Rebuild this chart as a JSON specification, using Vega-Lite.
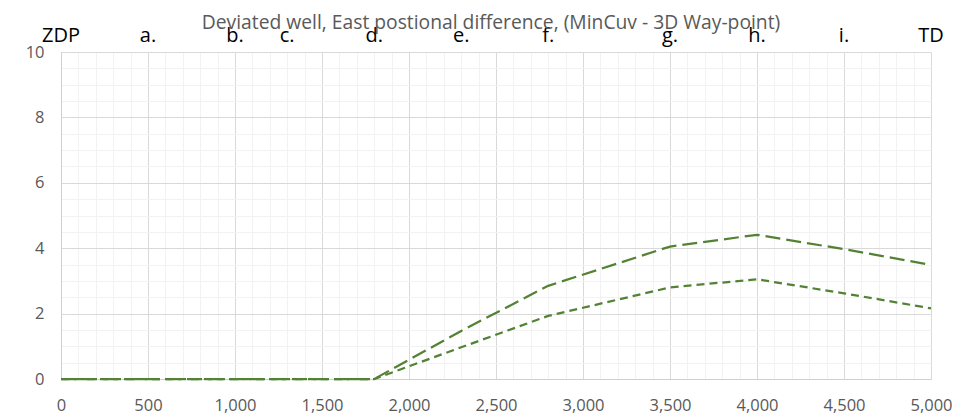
{
  "$schema": "https://vega.github.io/schema/vega-lite/v6.json",
  "width": 870,
  "height": 327,
  "autosize": "none",
  "padding": {"left": 61, "top": 52, "right": 36, "bottom": 38},
  "background": "white",
  "title": {
    "text": "Deviated well, East postional difference, (MinCuv - 3D Way-point)",
    "font": "Open Sans",
    "fontSize": 19.3,
    "fontWeight": "normal",
    "color": "#595959",
    "anchor": "middle",
    "offset": -7,
    "dx": -5
  },
  "config": {
    "view": {"stroke": null},
    "font": "Open Sans",
    "axis": {
      "title": null,
      "labelOverlap": false,
      "labelBound": false,
      "labelFlush": false,
      "labelFont": "Open Sans",
      "labelFontSize": 16.5,
      "labelColor": "#595959",
      "ticks": false,
      "domain": true,
      "domainColor": "#d0d0d0",
      "domainWidth": 1,
      "grid": true,
      "gridWidth": 1
    }
  },
  "datasets": {
    "sections": [
      {"depth": 0, "name": "ZDP"},
      {"depth": 500, "name": "a."},
      {"depth": 1000, "name": "b."},
      {"depth": 1300, "name": "c."},
      {"depth": 1800, "name": "d."},
      {"depth": 2300, "name": "e."},
      {"depth": 2800, "name": "f."},
      {"depth": 3500, "name": "g."},
      {"depth": 4000, "name": "h."},
      {"depth": 4500, "name": "i."},
      {"depth": 5000, "name": "TD"}
    ],
    "positions": [
      {"depth": 0, "series": "A", "diff": 0},
      {"depth": 500, "series": "A", "diff": 0},
      {"depth": 1000, "series": "A", "diff": 0},
      {"depth": 1300, "series": "A", "diff": 0},
      {"depth": 1800, "series": "A", "diff": 0},
      {"depth": 2300, "series": "A", "diff": 1.47},
      {"depth": 2800, "series": "A", "diff": 2.85},
      {"depth": 3500, "series": "A", "diff": 4.05},
      {"depth": 4000, "series": "A", "diff": 4.41},
      {"depth": 4500, "series": "A", "diff": 3.97},
      {"depth": 5000, "series": "A", "diff": 3.49},
      {"depth": 0, "series": "B", "diff": 0},
      {"depth": 500, "series": "B", "diff": 0},
      {"depth": 1000, "series": "B", "diff": 0},
      {"depth": 1300, "series": "B", "diff": 0},
      {"depth": 1800, "series": "B", "diff": 0},
      {"depth": 2300, "series": "B", "diff": 0.97},
      {"depth": 2800, "series": "B", "diff": 1.93},
      {"depth": 3500, "series": "B", "diff": 2.8},
      {"depth": 4000, "series": "B", "diff": 3.05},
      {"depth": 4500, "series": "B", "diff": 2.62},
      {"depth": 5000, "series": "B", "diff": 2.16}
    ]
  },
  "encoding": {
    "x": {
      "field": "depth",
      "type": "quantitative",
      "scale": {"domain": [0, 5000], "nice": false, "zero": false},
      "axis": {
        "values": [0,100,200,300,400,500,600,700,800,900,1000,1100,1200,1300,1400,1500,1600,1700,1800,1900,2000,2100,2200,2300,2400,2500,2600,2700,2800,2900,3000,3100,3200,3300,3400,3500,3600,3700,3800,3900,4000,4100,4200,4300,4400,4500,4600,4700,4800,4900,5000],
        "labelExpr": "datum.value % 500 === 0 ? format(datum.value, ',') : ''",
        "labelPadding": 18,
        "gridColor": {"condition": {"test": "datum.value % 500 === 0", "value": "#d9d9d9"}, "value": "#f2f2f2"}
      }
    }
  },
  "layer": [
    {
      "data": {"name": "positions"},
      "mark": {"type": "line", "color": "#548235", "strokeWidth": 2.25, "strokeCap": "butt"},
      "encoding": {
        "y": {
          "field": "diff",
          "type": "quantitative",
          "scale": {"domain": [0, 10], "nice": false},
          "axis": {
            "values": [0,0.5,1,1.5,2,2.5,3,3.5,4,4.5,5,5.5,6,6.5,7,7.5,8,8.5,9,9.5,10],
            "labelExpr": "datum.value % 2 === 0 ? format(datum.value, 'd') : ''",
            "labelPadding": 17,
            "gridColor": {"condition": {"test": "datum.value % 2 === 0", "value": "#d9d9d9"}, "value": "#f2f2f2"}
          }
        },
        "strokeDash": {
          "field": "series",
          "type": "nominal",
          "scale": {"domain": ["A", "B"], "range": [[15, 6], [8, 5]]},
          "legend": null
        }
      }
    },
    {
      "data": {"name": "sections"},
      "mark": {"type": "text", "font": "Open Sans", "fontSize": 20, "color": "#000000", "baseline": "alphabetic", "align": "center", "dy": -10},
      "encoding": {
        "y": {
          "datum": 10,
          "type": "quantitative",
          "axis": {
            "values": [0,0.5,1,1.5,2,2.5,3,3.5,4,4.5,5,5.5,6,6.5,7,7.5,8,8.5,9,9.5,10],
            "labelExpr": "datum.value % 2 === 0 ? format(datum.value, 'd') : ''",
            "labelPadding": 17,
            "gridColor": {"condition": {"test": "datum.value % 2 === 0", "value": "#d9d9d9"}, "value": "#f2f2f2"}
          }
        },
        "text": {"field": "name", "type": "nominal"}
      }
    }
  ]
}
